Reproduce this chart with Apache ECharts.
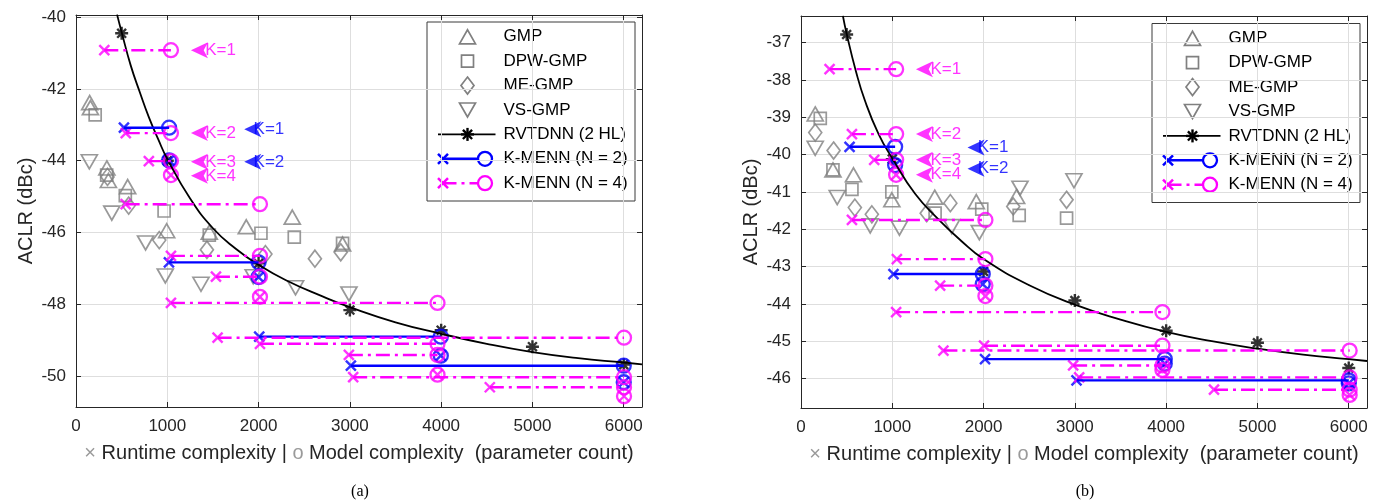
<!DOCTYPE html>
<html>
<head>
<meta charset="utf-8">
<script src="https://cdn.jsdelivr.net/npm/echarts@6/dist/echarts.min.js"></script>
<style>
html, body { margin: 0; padding: 0; background: #fff; }
#chart { width: 1382px; height: 504px; }
</style>
</head>
<body>
<div id="chart"></div>
<script>
// ---------- panel (a) ----------
const gmpA = [[150, -42.38], [158, -42.52], [338, -44.2], [355, -44.55], [566, -44.72], [993, -45.95], [1460, -45.99], [1865, -45.84], [2369, -45.57], [2920, -46.32]];
const dpwA = [[210, -42.72], [336, -44.4], [540, -44.97], [965, -45.4], [1460, -46.07], [2026, -46.02], [2391, -46.13], [2920, -46.3]];
const meA  = [[345, -44.45], [577, -45.25], [912, -46.21], [1434, -46.48], [2075, -46.6], [2617, -46.73], [2900, -46.55]];
const vsA  = [[146, -44.03], [392, -45.46], [762, -46.29], [978, -47.21], [1369, -47.44], [1941, -47.23], [2405, -47.54], [2990, -47.71]];
const rvtA = [[500, -40.45], [1000, -44.0], [2000, -46.86], [3000, -48.16], [4000, -48.72], [5000, -49.18], [6000, -49.68]];
const fitA = [[450, -39.93], [500, -40.42], [600, -41.35], [700, -42.1], [800, -42.8], [900, -43.4], [1000, -43.95],
              [1250, -45.05], [1500, -45.88], [1750, -46.45], [2000, -46.9], [2300, -47.33], [2700, -47.78], [3000, -48.08],
              [3500, -48.5], [4000, -48.82], [4500, -49.1], [5000, -49.33], [5500, -49.5], [6000, -49.62], [6200, -49.67]];
const n2RunA   = [525, 1020, 1018, 2000, 2007, 3996, 3011, 6000];
const n2ModelA = [1020, 1020, 2000, 2000, 3996, 3996, 6000, 6000];
const n2AclrA  = [-43.08, -43.99, -46.83, -47.24, -48.9, -49.43, -49.71, -50.17];
const n4RunA   = [310, 545, 798, 1040, 544, 1040, 1533, 2015, 1040, 2015, 2989, 3960, 1551, 3036, 4533, 6003];
const n4ModelA = [1040, 1040, 1040, 1040, 2015, 2015, 2015, 2015, 3960, 3960, 3960, 3960, 6003, 6003, 6003, 6003];
const n4AclrA  = [-40.92, -43.23, -44.01, -44.4, -45.21, -46.65, -47.23, -47.79, -47.96, -49.1, -49.41, -49.96, -48.93, -50.03, -50.31, -50.56];
const kTagMagA  = [-40.92, -43.23, -44.03, -44.42];
const kTagBlueA = [-43.12, -44.03];

// ---------- panel (b) ----------
const gmpB = [[156, -38.91], [350, -40.41], [575, -40.54], [995, -41.21], [1465, -41.14], [1920, -41.26], [2362, -41.12]];
const dpwB = [[211, -39.03], [350, -40.41], [558, -40.93], [995, -41.0], [1469, -41.57], [1980, -41.46], [2390, -41.63], [2909, -41.7]];
const meB  = [[156, -39.41], [357, -39.89], [590, -41.42], [776, -41.6], [1377, -41.57], [1636, -41.3], [2325, -41.39], [2909, -41.21]];
const vsB  = [[156, -39.83], [397, -41.15], [758, -41.91], [1078, -41.97], [1651, -41.93], [1953, -42.09], [2399, -40.9], [2990, -40.7]];
const rvtB = [[500, -36.78], [1000, -40.12], [2000, -43.13], [3000, -43.91], [4000, -44.72], [5000, -45.04], [6000, -45.72]];
const fitB = [[459, -36.28], [500, -36.76], [600, -37.75], [700, -38.55], [850, -39.45], [1000, -40.1], [1250, -41.05],
              [1500, -41.72], [1750, -42.3], [2000, -42.8], [2500, -43.5], [3000, -44.02], [3500, -44.42], [4000, -44.75],
              [4500, -45.0], [5000, -45.2], [5500, -45.36], [6000, -45.48], [6200, -45.53]];
const n2RunB   = [532, 1031, 1013, 1991, 2016, 3985, 3018, 6000];
const n2ModelB = [1031, 1031, 1991, 1991, 3985, 3985, 6000, 6000];
const n2AclrB  = [-39.79, -40.28, -43.2, -43.47, -45.48, -45.6, -46.05, -46.13];
const n4RunB   = [313, 558, 802, 1042, 558, 1050, 1524, 2020, 1042, 2005, 2981, 3959, 1560, 3047, 4524, 6010];
const n4ModelB = [1042, 1042, 1042, 1042, 2020, 2020, 2020, 2020, 3959, 3959, 3959, 3959, 6010, 6010, 6010, 6010];
const n4AclrB  = [-37.71, -39.45, -40.14, -40.54, -41.75, -42.8, -43.51, -43.79, -44.22, -45.12, -45.65, -45.77, -45.25, -45.97, -46.3, -46.44];
const kTagMagB  = [-37.71, -39.45, -40.14, -40.54];
const kTagBlueB = [-39.81, -40.38];

const kNames = ['K=1', 'K=2', 'K=3', 'K=4'];
const legendNames = ['GMP', 'DPW-GMP', 'ME-GMP', 'VS-GMP', 'RVTDNN (2 HL)', 'K-MENN (N = 2)', 'K-MENN (N = 4)'];

// ---------- styling ----------
const FONT = '"Liberation Sans", Arial, Helvetica, sans-serif';
const AX = '#262626', GRID = '#dedede';
const GRAY = '#808080', BLUE = '#0000ff', MAG = '#ff00ff';
const DASHDOT = [14, 5, 3, 5];
const STAR = 'path://M5,0L5,10M0,5L10,5M1.6,1.6L8.4,8.4M8.4,1.6L1.6,8.4';
const CROSS = 'path://M0,0L10,10M10,0L0,10';

function hollow(color, w) {
  return { color: 'rgba(0,0,0,0)', borderColor: color, borderWidth: w };
}

const panels = [
  { gmp: gmpA, dpw: dpwA, me: meA, vs: vsA, rvt: rvtA, fit: fitA,
    n2: { run: n2RunA, model: n2ModelA, aclr: n2AclrA },
    n4: { run: n4RunA, model: n4ModelA, aclr: n4AclrA },
    tagMag: kTagMagA, tagBlue: kTagBlueA, ymin: -50.86, ymax: -39.94, split: 5,
    magArrowX: 1259, magTextX: 1410, blueArrowX: 1843, blueTextX: 1940 },
  { gmp: gmpB, dpw: dpwB, me: meB, vs: vsB, rvt: rvtB, fit: fitB,
    n2: { run: n2RunB, model: n2ModelB, aclr: n2AclrB },
    n4: { run: n4RunB, model: n4ModelB, aclr: n4AclrB },
    tagMag: kTagMagB, tagBlue: kTagBlueB, ymin: -46.79, ymax: -36.285, split: 10,
    magArrowX: 1259, magTextX: 1412, blueArrowX: 1824, blueTextX: 1930 }
];

function panelSeries(p, d) {
  const base = { xAxisIndex: p * 2, yAxisIndex: p * 2, silent: true, animation: false };
  const out = [];
  const scatter = (data, symbol, size, style, extra) =>
    out.push(Object.assign({ type: 'scatter', data, symbol, symbolSize: size, itemStyle: style }, base, extra || {}));

  scatter(d.gmp, 'triangle', [16, 14], hollow(GRAY, 1.7));
  scatter(d.dpw, 'rect', 12, hollow(GRAY, 1.7));
  scatter(d.me, 'diamond', [13, 17], hollow(GRAY, 1.7));
  scatter(d.vs, 'triangle', [16, 14], hollow(GRAY, 1.7), { symbolRotate: 180 });

  out.push(Object.assign({ type: 'line', data: d.fit, smooth: 0.5, symbol: 'none',
    lineStyle: { color: '#000', width: 1.8 } }, base));
  scatter(d.rvt, STAR, 13, hollow('#000', 2.4));

  [[d.n2, BLUE, 'solid'], [d.n4, MAG, DASHDOT]].forEach(([g, col, dash]) => {
    g.run.forEach((r, i) => {
      out.push(Object.assign({ type: 'line', symbol: 'none',
        data: [[r, g.aclr[i]], [g.model[i], g.aclr[i]]],
        lineStyle: { color: col, width: 2.4, type: dash } }, base));
    });
    scatter(g.run.map((r, i) => [r, g.aclr[i]]), CROSS, 10, hollow(col, 2.4));
    scatter(g.model.map((m, i) => [m, g.aclr[i]]), 'circle', 14, hollow(col, 2.3));
  });

  // K annotations: filled arrow heads plus text
  const tags = [[d.tagMag, MAG, d.magArrowX, d.magTextX], [d.tagBlue, BLUE, d.blueArrowX, d.blueTextX]];
  tags.forEach(([ys, col, ax, tx]) => {
    scatter(ys.map(y => [ax, y]), 'arrow', [12, 17], { color: col }, { symbolRotate: 90 });
    scatter(ys.map((y, i) => ({ value: [tx, y], name: kNames[i] })), 'circle', 1, { color: 'rgba(0,0,0,0)' }, {
      label: { show: true, position: 'right', distance: 0, formatter: '{b}', color: col,
               fontSize: 17, fontFamily: FONT }
    });
  });
  return out;
}

const plain = v => String(v);

function xAxes(p) {
  const common = { type: 'value', gridIndex: p, min: 0, max: 6200, interval: 1000 };
  return [
    Object.assign({}, common, {
      position: 'bottom',
      axisLine: { show: true, onZero: false, lineStyle: { color: AX, width: 1 } },
      axisTick: { show: true, inside: true, length: 5, lineStyle: { color: AX } },
      axisLabel: { show: true, margin: 11, color: AX, fontSize: 17, fontFamily: FONT, showMaxLabel: false, formatter: plain },
      splitLine: { show: true, lineStyle: { color: GRID, width: 1 } },
      name: '{g|\u00d7} Runtime complexity | {g|o} Model complexity  (parameter count)',
      nameLocation: 'middle', nameGap: 36,
      nameTextStyle: { color: AX, fontSize: 20, fontFamily: FONT,
                       rich: { g: { color: '#9a9a9a', fontSize: 20, fontFamily: FONT } } }
    }),
    Object.assign({}, common, {
      position: 'top',
      axisLine: { show: true, onZero: false, lineStyle: { color: AX, width: 1 } },
      axisTick: { show: true, inside: true, length: 5, lineStyle: { color: AX } },
      axisLabel: { show: false }, splitLine: { show: false }
    })
  ];
}

function yAxes(p, d) {
  const common = { type: 'value', gridIndex: p, min: d.ymin, max: d.ymax, splitNumber: d.split };
  return [
    Object.assign({}, common, {
      position: 'left',
      axisLine: { show: true, onZero: false, lineStyle: { color: AX, width: 1 } },
      axisTick: { show: true, inside: true, length: 5, lineStyle: { color: AX } },
      axisLabel: { show: true, margin: 10, color: AX, fontSize: 17, fontFamily: FONT,
                   showMinLabel: false, showMaxLabel: false, formatter: plain },
      splitLine: { show: true, lineStyle: { color: GRID, width: 1 } },
      name: 'ACLR (dBc)', nameLocation: 'middle', nameGap: 40,
      nameTextStyle: { color: AX, fontSize: 20, fontFamily: FONT }
    }),
    Object.assign({}, common, {
      position: 'right',
      axisLine: { show: true, onZero: false, lineStyle: { color: AX, width: 1 } },
      axisTick: { show: true, inside: true, length: 5, lineStyle: { color: AX } },
      axisLabel: { show: false }, splitLine: { show: false }
    })
  ];
}

// Legend box drawn with graphic primitives (icon column + names)
function legendBox(left, top) {
  const w = 208, h = 179, cx = 41, tx = 77;
  const rows = legendNames.map((_, i) => 15.3 + i * 24.4);
  const g = { stroke: GRAY, lineWidth: 1.7, fill: 'none' };
  const kids = [{ type: 'rect', shape: { x: 0.5, y: 0.5, width: w, height: h },
                  style: { fill: '#fff', stroke: '#3a3a3a', lineWidth: 1 } }];
  let r = rows[0];
  kids.push({ type: 'polygon', shape: { points: [[cx - 8, r + 7], [cx + 8, r + 7], [cx, r - 7]] }, style: g });
  r = rows[1];
  kids.push({ type: 'rect', shape: { x: cx - 6, y: r - 6, width: 12, height: 12 }, style: g });
  r = rows[2];
  kids.push({ type: 'polygon', shape: { points: [[cx, r - 8.5], [cx + 6.5, r], [cx, r + 8.5], [cx - 6.5, r]] }, style: g });
  r = rows[3];
  kids.push({ type: 'polygon', shape: { points: [[cx - 8, r - 7], [cx + 8, r - 7], [cx, r + 7]] }, style: g });
  r = rows[4];
  kids.push({ type: 'line', shape: { x1: 11.5, y1: r, x2: 69, y2: r }, style: { stroke: '#000', lineWidth: 1.8 } });
  [[0, -6.5, 0, 6.5], [-6.5, 0, 6.5, 0], [-4.6, -4.6, 4.6, 4.6], [4.6, -4.6, -4.6, 4.6]].forEach(s => {
    kids.push({ type: 'line', shape: { x1: cx + s[0], y1: r + s[1], x2: cx + s[2], y2: r + s[3] },
                style: { stroke: '#000', lineWidth: 2.4 } });
  });
  [[rows[5], BLUE, null], [rows[6], MAG, DASHDOT]].forEach(([ry, col, dash]) => {
    kids.push({ type: 'line', shape: { x1: 16, y1: ry, x2: 52, y2: ry },
                style: { stroke: col, lineWidth: 2.4, lineDash: dash } });
    kids.push({ type: 'line', shape: { x1: 11.5, y1: ry - 5, x2: 21.5, y2: ry + 5 }, style: { stroke: col, lineWidth: 2.4 } });
    kids.push({ type: 'line', shape: { x1: 21.5, y1: ry - 5, x2: 11.5, y2: ry + 5 }, style: { stroke: col, lineWidth: 2.4 } });
    kids.push({ type: 'circle', shape: { cx: 58.5, cy: ry, r: 7 }, style: { stroke: col, lineWidth: 2.3, fill: 'none' } });
  });
  legendNames.forEach((name, i) => {
    kids.push({ type: 'text', x: tx, y: rows[i],
      style: { text: name, fill: '#000', font: '17px ' + FONT,
               verticalAlign: 'middle', textVerticalAlign: 'middle', align: 'left', textAlign: 'left' } });
  });
  return { type: 'group', x: left, y: top, z: 100, children: kids };
}

function caption(text, x) {
  return { type: 'text', x: x, y: 492, z: 100,
    style: { text: text, fill: '#000', font: '16px "Liberation Serif", "Times New Roman", serif',
             align: 'center', textAlign: 'center', verticalAlign: 'middle', textVerticalAlign: 'middle' } };
}

const chart = echarts.init(document.getElementById('chart'), null, { renderer: 'canvas' });
chart.setOption({
  animation: false,
  backgroundColor: '#fff',
  textStyle: { fontFamily: FONT },
  grid: [
    { left: 76, top: 15, width: 566, height: 392 },
    { left: 801, top: 16, width: 566, height: 392 }
  ],
  xAxis: [].concat(xAxes(0), xAxes(1)),
  yAxis: [].concat(yAxes(0, panels[0]), yAxes(1, panels[1])),
  series: [].concat(panelSeries(0, panels[0]), panelSeries(1, panels[1])),
  graphic: [legendBox(426.5, 21.5), legendBox(1151.5, 23), caption('(a)', 360), caption('(b)', 1085)]
});
</script>
</body>
</html>
